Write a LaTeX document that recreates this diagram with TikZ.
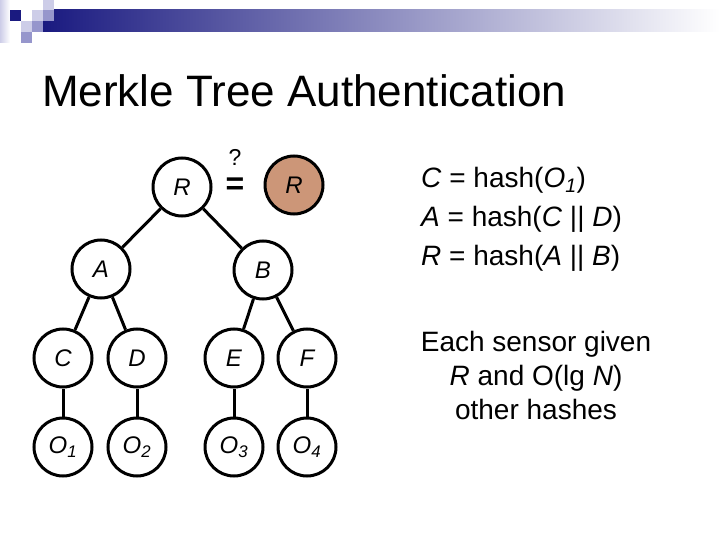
\documentclass[tikz,border=0pt]{standalone}
\usepackage{fontspec}
\setmainfont{Liberation Sans}
\usetikzlibrary{positioning}
\definecolor{navy}{RGB}{26,26,128}
\definecolor{lav}{RGB}{205,205,232}
\definecolor{midlav}{RGB}{150,150,204}
\definecolor{tanroot}{RGB}{204,150,120}

\begin{document}
\begin{tikzpicture}[x=1pt, y=-1pt,
  node distance=28pt,
  hnode/.style={draw, circle, line width=3pt, minimum size=58pt, inner sep=0pt,
                font=\fontsize{24}{24}\selectfont\itshape},
  given/.style={hnode, fill=tanroot},
  edge/.style={line width=3pt},
  txt/.style={font=\fontsize{28}{39}\selectfont, align=left}]
  \useasboundingbox (0,0) rectangle (720,540);
  % header bar and squares
  \shade[left color=navy, right color=white] (43,10) rectangle (720,32);
  \shade[left color=lav, right color=white] (0,0) rectangle (10,43);
  \fill[navy] (10,10) rectangle (21,21);
  \fill[lav] (32,10) rectangle (43,21);
  \fill[lav] (43,0) rectangle (54,10);
  \fill[midlav] (43,10) rectangle (54,21);
  \fill[lav] (21,21) rectangle (32,32);
  \fill[midlav] (32,21) rectangle (43,32);
  \fill[midlav] (21,32) rectangle (32,43);
  % title
  \node[anchor=base west, inner sep=0pt, font=\fontsize{44}{44}\selectfont]
       (title) at (42,107) {Merkle Tree Authentication};
  % tree
  \node[hnode] (r) at (182,187) {R};
  \node[given] (rr) at (294,185) {R};
  \node[inner sep=0pt, font=\fontsize{23}{23}\selectfont] (q) at (235,157) {?};
  \node[inner sep=0pt, font=\fontsize{32}{32}\selectfont\bfseries] (eq) at (235,186) {=};
  \node[hnode] (a) at (101,269) {A};
  \node[hnode] (b) at (263,270) {B};
  \foreach \n/\x/\t in {c/63/C, d/137/D, e/234/E, f/307/F}
    \node[hnode] (\n) at (\x,358) {\t};
  \foreach \n/\i in {c/1, d/2, e/3, f/4}
    \node[hnode, below=of \n] (o\i) {O\textsubscript{\i}};
  \foreach \i/\j in {r/a, r/b, a/c, a/d, b/e, b/f, c/o1, d/o2, e/o3, f/o4}
    \draw[edge] (\i) -- (\j);
  % text on the right
  \node[txt, anchor=west, inner sep=0pt] (defs) at (421,219)
       {\textit{C} = hash(\textit{O\textsubscript{1}})\\
        \textit{A} = hash(\textit{C} || \textit{D})\\
        \textit{R} = hash(\textit{A} || \textit{B})};
  \node[txt, align=center, font=\fontsize{28}{34}\selectfont] (note) at (536,375)
       {Each sensor given\\ \textit{R} and O(lg \textit{N})\\ other hashes};
\end{tikzpicture}
\end{document}
